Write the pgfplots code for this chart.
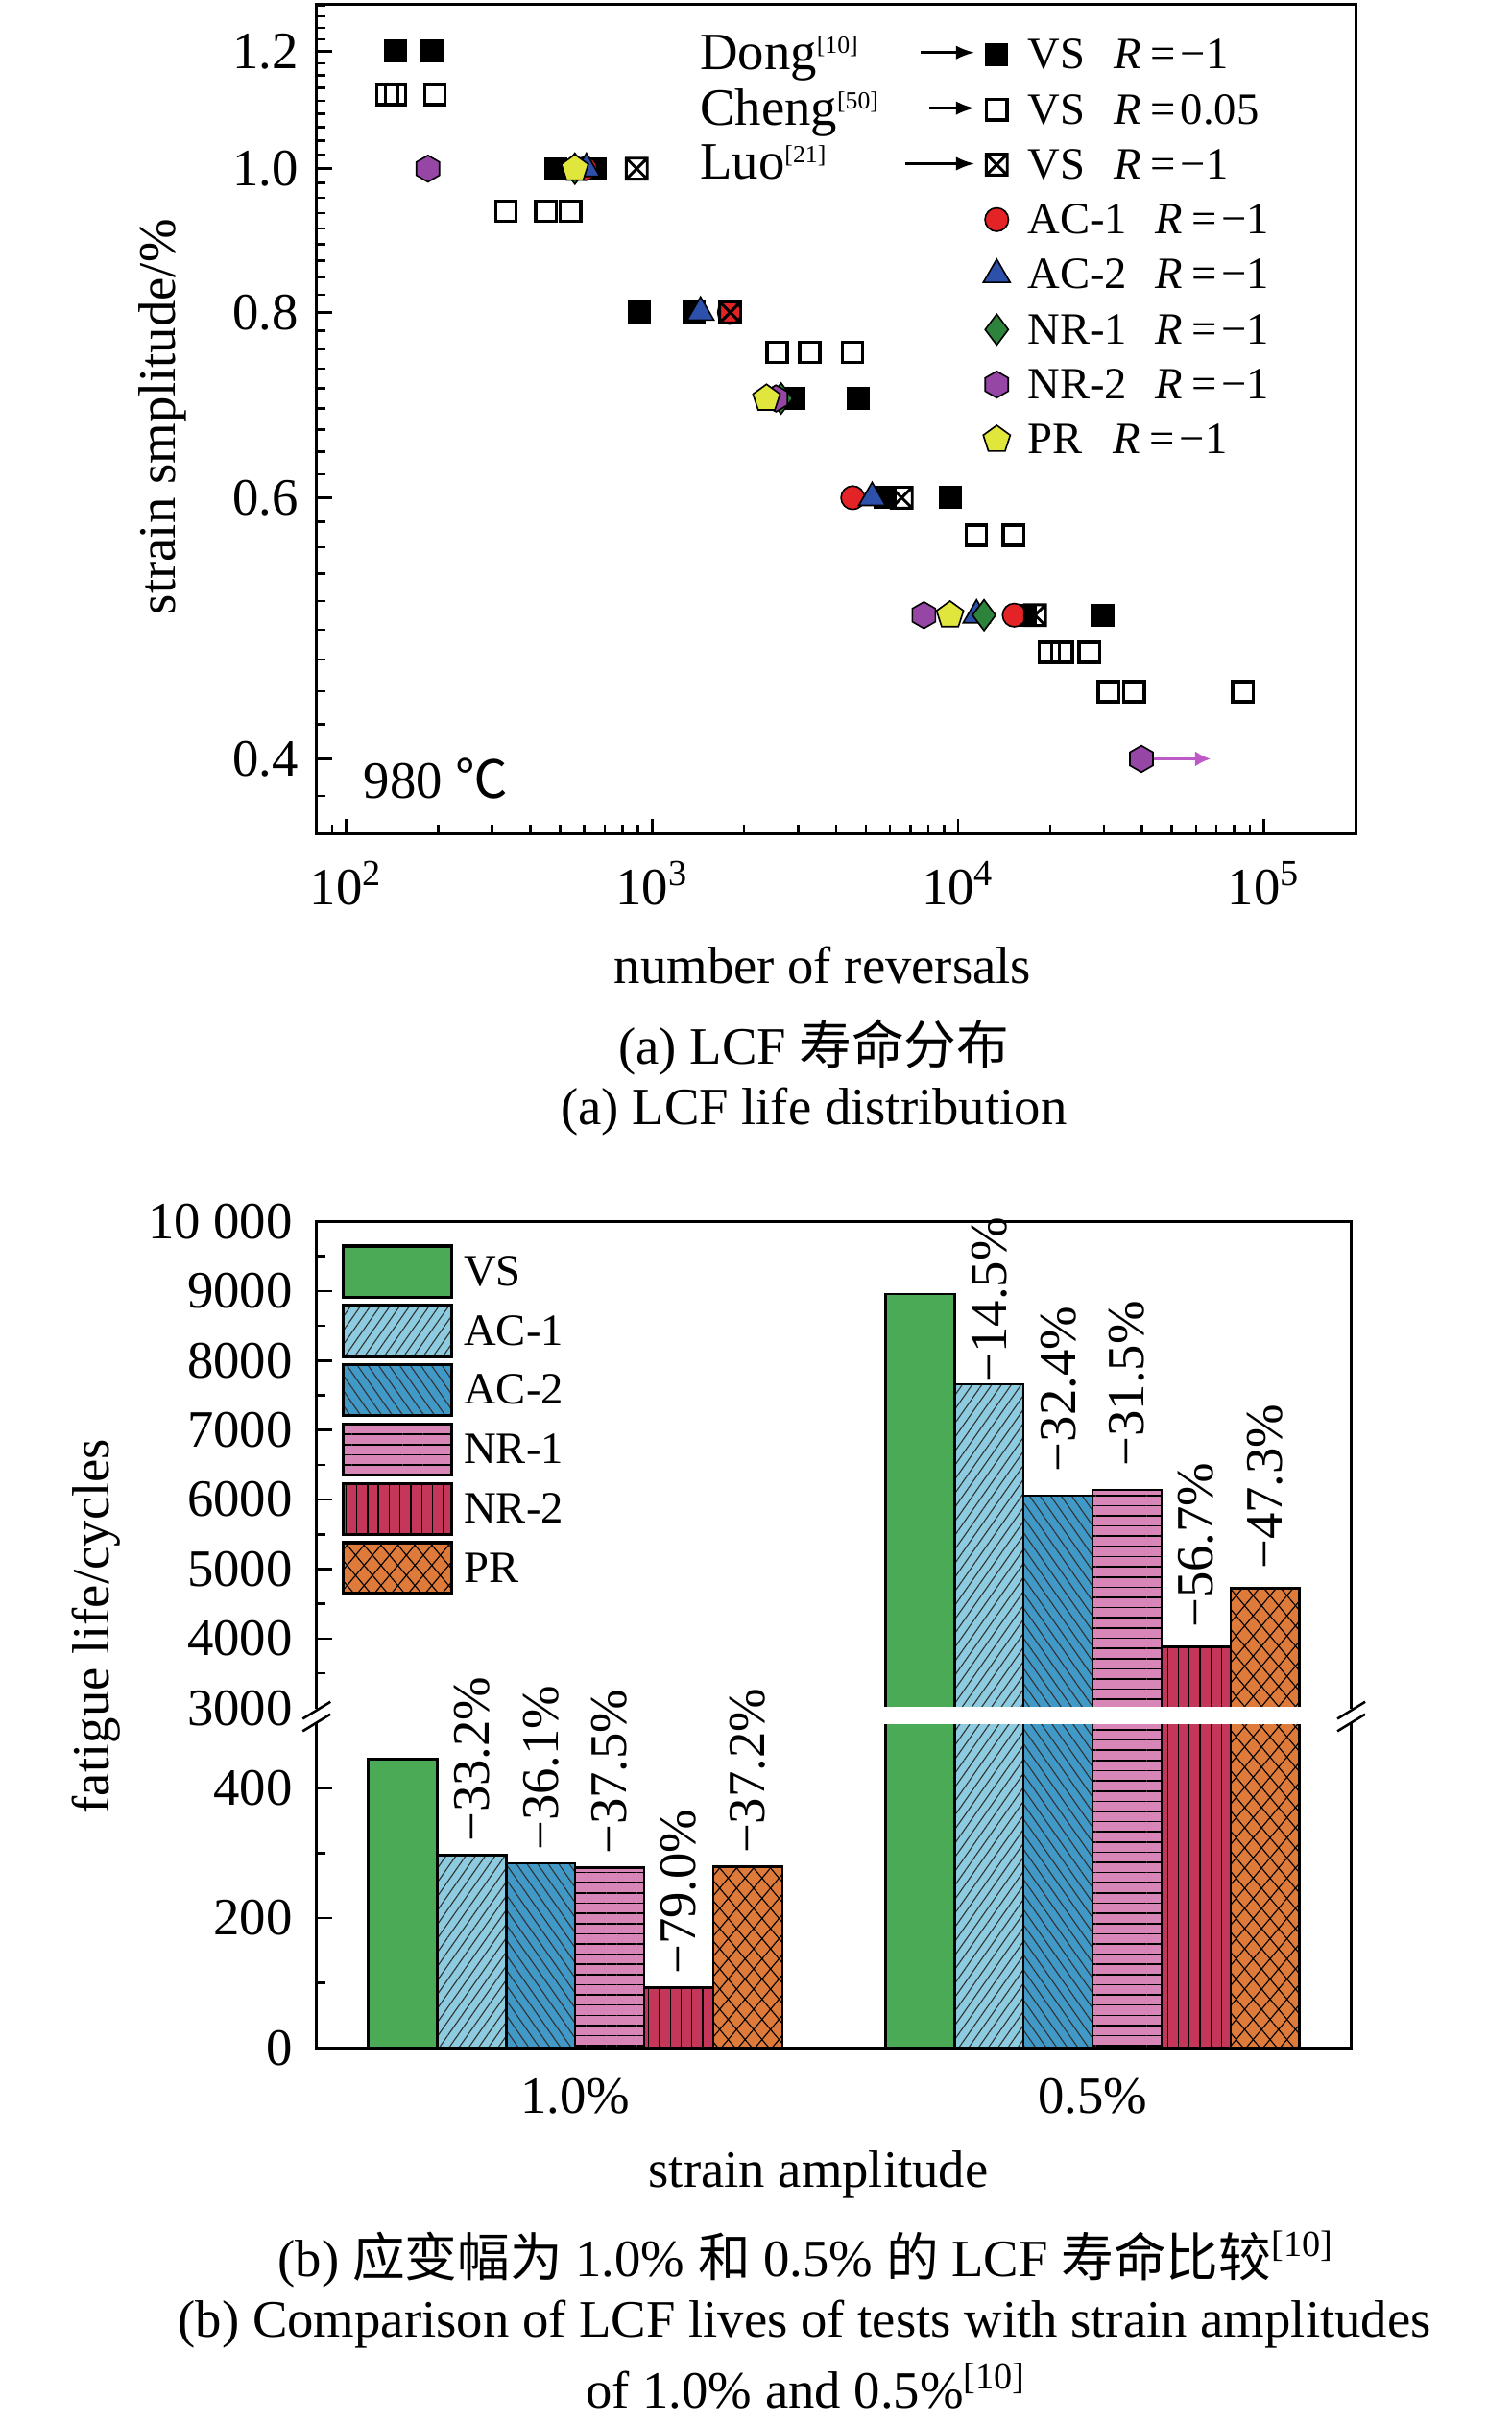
\documentclass[border=0pt]{standalone}
\usepackage{fontspec}
\setmainfont{Liberation Serif}
\newfontfamily\cjk{Noto Sans CJK SC}
\usepackage{graphicx}
\usepackage{pgfplots}
\pgfplotsset{compat=1.18}
\usetikzlibrary{plotmarks,patterns.meta,arrows.meta}

\definecolor{cRed}{RGB}{228,35,38}
\definecolor{cBlue}{RGB}{45,80,170}
\definecolor{cGreen}{RGB}{45,130,60}
\definecolor{cPurple}{RGB}{150,70,165}
\definecolor{cYellow}{RGB}{225,230,60}
\definecolor{cArrow}{RGB}{190,90,200}
\definecolor{bVS}{RGB}{74,170,86}
\definecolor{bAC1}{RGB}{141,204,224}
\definecolor{bAC2}{RGB}{65,153,200}
\definecolor{bNR1}{RGB}{216,133,184}
\definecolor{bNR2}{RGB}{196,55,90}
\definecolor{bPR}{RGB}{222,122,58}

\newcommand\smallsup[1]{\raisebox{5.2pt}{\fontsize{8}{9}\selectfont #1}}

\pgfdeclareplotmark{hexagon*}{%
  \pgfpathmoveto{\pgfpointpolar{90}{\pgfplotmarksize}}%
  \pgfpathlineto{\pgfpointpolar{150}{\pgfplotmarksize}}%
  \pgfpathlineto{\pgfpointpolar{210}{\pgfplotmarksize}}%
  \pgfpathlineto{\pgfpointpolar{270}{\pgfplotmarksize}}%
  \pgfpathlineto{\pgfpointpolar{330}{\pgfplotmarksize}}%
  \pgfpathlineto{\pgfpointpolar{30}{\pgfplotmarksize}}%
  \pgfpathclose
  \pgfusepathqfillstroke}
\pgfdeclareplotmark{boxx}{%
  \pgfpathrectanglecorners{\pgfqpoint{-\pgfplotmarksize}{-\pgfplotmarksize}}{\pgfqpoint{\pgfplotmarksize}{\pgfplotmarksize}}%
  \pgfpathmoveto{\pgfqpoint{-\pgfplotmarksize}{-\pgfplotmarksize}}%
  \pgfpathlineto{\pgfqpoint{\pgfplotmarksize}{\pgfplotmarksize}}%
  \pgfpathmoveto{\pgfqpoint{-\pgfplotmarksize}{\pgfplotmarksize}}%
  \pgfpathlineto{\pgfqpoint{\pgfplotmarksize}{-\pgfplotmarksize}}%
  \pgfusepathqstroke}

\pgfplotsset{
  mDong/.style={only marks, mark=square*, mark size=3.5pt, mark options={draw=black, fill=black, line width=0.5pt}},
  mCheng/.style={only marks, mark=square, mark size=3.3pt, mark options={draw=black, fill=white, line width=1.1pt}},
  mLuo/.style={only marks, mark=boxx, mark size=3.4pt, mark options={draw=black, fill=none, line width=0.9pt}},
  mAC1/.style={only marks, mark=*, mark size=3.8pt, mark options={draw=black, fill=cRed, line width=0.5pt}},
  mAC2/.style={only marks, mark=triangle*, mark size=5pt, mark options={draw=black, fill=cBlue, line width=0.5pt}},
  mNR1/.style={only marks, mark=diamond*, mark size=5pt, mark options={draw=black, fill=cGreen, line width=0.5pt}},
  mNR2/.style={only marks, mark=hexagon*, mark size=4.3pt, mark options={draw=black, fill=cPurple, line width=0.5pt}},
  mPR/.style={only marks, mark=pentagon*, mark size=4.6pt, mark options={draw=black, fill=cYellow, line width=0.5pt}},
  bVSs/.style={ybar, bar width=0.13333, bar shift=-0.33333, draw=black, line width=0.75pt, fill=bVS},
  bAC1s/.style={ybar, bar width=0.13333, bar shift=-0.2, draw=black, line width=0.75pt, preaction={fill=bAC1}, pattern={Lines[angle=55,distance=2.6pt,line width=0.35pt]}, pattern color=black!80},
  bAC2s/.style={ybar, bar width=0.13333, bar shift=-0.066667, draw=black, line width=0.75pt, preaction={fill=bAC2}, pattern={Lines[angle=-55,distance=2.8pt,line width=0.35pt]}, pattern color=black!80},
  bNR1s/.style={ybar, bar width=0.13333, bar shift=0.066667, draw=black, line width=0.75pt, preaction={fill=bNR1}, pattern={Lines[angle=0,distance=3.3pt,line width=0.5pt]}, pattern color=black},
  bNR2s/.style={ybar, bar width=0.13333, bar shift=0.2, draw=black, line width=0.75pt, preaction={fill=bNR2}, pattern={Lines[angle=90,distance=3.5pt,line width=0.4pt]}, pattern color=black},
  bPRs/.style={ybar, bar width=0.13333, bar shift=0.33333, draw=black, line width=0.75pt, preaction={fill=bPR}, preaction={pattern={Lines[angle=50,distance=4.2pt,line width=0.35pt]}, pattern color=black}, pattern={Lines[angle=-50,distance=4.2pt,line width=0.35pt]}, pattern color=black},
  ticksty/.style={tick align=inside, major tick length=5pt, minor tick length=3pt, tick style={black, line width=0.8pt}},
}

\begin{document}
\fontsize{17}{20.4}\selectfont
\begin{tikzpicture}
\useasboundingbox (0pt,0pt) rectangle (489.5pt,-784.5pt);

% ================= (a) LCF life distribution =================
\begin{axis}[
  name=topax,
  at={(102.5pt,-270pt)}, anchor=south west,
  width=336.5pt, height=268.5pt, scale only axis,
  xmode=log, ymode=log,
  xmin=80, xmax=200000, ymin=0.356, ymax=1.29,
  xtick={100,1000,10000,100000},
  xticklabels={10\textsuperscript{2},10\textsuperscript{3},10\textsuperscript{4},10\textsuperscript{5}},
  minor xtick={90,200,300,400,500,600,700,800,900,2000,3000,4000,5000,6000,7000,8000,9000,20000,30000,40000,50000,60000,70000,80000,90000},
  ytick={0.4,0.6,0.8,1.0,1.2},
  yticklabels={0.4,0.6,0.8,1.0,1.2},
  minor ytick={0.3778,0.4222,0.4444,0.4667,0.4889,0.5111,0.5333,0.5556,0.5778,0.6222,0.6444,0.6667,0.6889,0.7111,0.7333,0.7556,0.7778,0.8222,0.8444,0.8667,0.8889,0.9111,0.9333,0.9556,0.9778,1.0222,1.0444,1.0667,1.0889,1.1111,1.1333,1.1556,1.1778,1.2222,1.2444,1.2667,1.2889},
  ticksty, xtick pos=left, ytick pos=left,
  axis line style={line width=1pt},
  xticklabel style={yshift=-3pt},
  xlabel={number of reversals},
  ylabel={strain smplitude/\%},
  every axis x label/.style={at={(axis description cs:0.487,-0.158)}, anchor=center},
  every axis y label/.style={at={(axis description cs:-0.1486,0.503)}, anchor=center, rotate=90},
  legend style={at={(axis description cs:0.636,0.965)}, anchor=north west, draw=none, fill=none, inner sep=0pt, row sep=4.6pt, column sep=3pt, font=\fontsize{14.5}{17.4}\selectfont, nodes={inner sep=1pt, text height=10.2pt, text depth=1pt}},
  legend cell align=left,
  legend image code/.code={\path[draw=none, fill=none] (0pt,-6pt) rectangle (12pt,6pt); \draw[mark repeat=2,mark phase=2,#1] plot coordinates {(0pt,0pt) (6pt,0pt) (12pt,0pt)};},
]
% Dong [10], VS, R=-1
\addplot[mDong, forget plot] coordinates {
 (145,1.2) (191,1.2) (483,1.0) (650,1.0) (906,0.8) (1368,0.8)
 (2910,0.7) (4710,0.7) (5780,0.6) (9420,0.6) (16640,0.5) (29700,0.5)};
% Cheng [50], VS, R=0.05
\addplot[mCheng, forget plot] coordinates {
 (136,1.122) (145,1.122) (195,1.122) (333,0.936) (450,0.936) (541,0.936)
 (2560,0.752) (3275,0.752) (4520,0.752) (11480,0.566) (15200,0.566)
 (19870,0.472) (21880,0.472) (26900,0.472) (31100,0.444) (37600,0.444) (85500,0.444)};
% AC-1
\addplot[mAC1, forget plot] coordinates {(605,1.0) (1790,0.8) (4530,0.6) (15280,0.5)};
% AC-2
\addplot[mAC2, forget plot] coordinates {(610,1.0) (1440,0.8) (5240,0.6) (11500,0.5)};
% NR-1
\addplot[mNR1, forget plot] coordinates {(559,1.0) (2640,0.7) (12170,0.5)};
% NR-2
\draw[cArrow, line width=1.1pt, -{Latex[length=5pt,width=5pt]}] (axis cs:43000,0.4) -- (axis cs:67000,0.4);
\addplot[mNR2, forget plot] coordinates {(185,1.0) (2540,0.7) (7740,0.5) (39800,0.4)};
% PR
\addplot[mPR, forget plot] coordinates {(559,1.0) (2366,0.7) (9420,0.5)};
% Luo [21], VS, R=-1
\addplot[mLuo, forget plot] coordinates {(891,1.0) (1800,0.8) (6550,0.6) (17870,0.5)};

\addlegendimage{mDong}\addlegendentry{VS\hspace{9.5pt}\textit{R}\hspace{3pt}=\hspace{1.5pt}−1}
\addlegendimage{mCheng}\addlegendentry{VS\hspace{9.5pt}\textit{R}\hspace{3pt}=\hspace{1.5pt}0.05}
\addlegendimage{mLuo}\addlegendentry{VS\hspace{9.5pt}\textit{R}\hspace{3pt}=\hspace{1.5pt}−1}
\addlegendimage{mAC1}\addlegendentry{AC-1\hspace{9pt}\textit{R}\hspace{3pt}=\hspace{1.5pt}−1}
\addlegendimage{mAC2}\addlegendentry{AC-2\hspace{9pt}\textit{R}\hspace{3pt}=\hspace{1.5pt}−1}
\addlegendimage{mNR1}\addlegendentry{NR-1\hspace{9pt}\textit{R}\hspace{3pt}=\hspace{1.5pt}−1}
\addlegendimage{mNR2}\addlegendentry{NR-2\hspace{9pt}\textit{R}\hspace{3pt}=\hspace{1.5pt}−1}
\addlegendimage{mPR}\addlegendentry{PR\hspace{10pt}\textit{R}\hspace{3pt}=\hspace{1.5pt}−1}
\end{axis}

% ================= (b) lower part 0-500 =================
\begin{axis}[
  name=lowax,
  at={(102.5pt,-663pt)}, anchor=south west,
  width=335pt, height=105pt, scale only axis,
  xmin=-0.5, xmax=1.5, ymin=0, ymax=500,
  axis line style={draw=none},
  xtick={0,1}, xticklabels={1.0\%,0.5\%},
  ytick={0,200,400}, yticklabels={0,200,400},
  minor ytick={100,300},
  ticksty, xtick pos=left, ytick pos=left,
  xticklabel style={yshift=-4pt},
  yticklabel style={xshift=-2pt},
  xlabel={strain amplitude},
  every axis x label/.style={at={(axis description cs:0.485,-0.39)}, anchor=center},
]
\addplot[bVSs]  coordinates {(0,445) (1,8960)};
\addplot[bAC1s] coordinates {(0,297) (1,7661)};
\addplot[bAC2s] coordinates {(0,284) (1,6057)};
\addplot[bNR1s] coordinates {(0,278) (1,6138)};
\addplot[bNR2s] coordinates {(0,93)  (1,3880)};
\addplot[bPRs]  coordinates {(0,279) (1,4722)};
\end{axis}

% ================= (b) upper part 3000-10000 =================
\begin{axis}[
  name=upax,
  at={(102.5pt,-553pt)}, anchor=south west,
  width=335pt, height=157.5pt, scale only axis,
  xmin=-0.5, xmax=1.5, ymin=3000, ymax=10000,
  axis line style={draw=none},
  scaled y ticks=false,
  xtick=\empty,
  ytick={3000,4000,5000,6000,7000,8000,9000,10000},
  yticklabels={3000,4000,5000,6000,7000,8000,9000,10\ 000},
  minor ytick={3500,4500,5500,6500,7500,8500,9500},
  ticksty, ytick pos=left,
  yticklabel style={xshift=-2pt},
  ylabel={fatigue life/cycles},
  every axis y label/.style={at={(axis description cs:-0.2134,0.168)}, anchor=center, rotate=90},
  legend style={at={(axis description cs:0.0239,0.954)}, anchor=north west, draw=none, fill=none, inner sep=0pt, row sep=1.7pt, column sep=2.5pt, font=\fontsize{14.5}{17.4}\selectfont, nodes={inner sep=1pt, text height=10.2pt, text depth=1pt}},
  legend cell align=left,
  legend image code/.code={\draw[#1, line width=1pt] (0pt,-8.25pt) rectangle (35pt,8.25pt);},
]
\addplot[bVSs]  coordinates {(0,445) (1,8960)};
\addplot[bAC1s] coordinates {(0,297) (1,7661)};
\addplot[bAC2s] coordinates {(0,284) (1,6057)};
\addplot[bNR1s] coordinates {(0,278) (1,6138)};
\addplot[bNR2s] coordinates {(0,93)  (1,3880)};
\addplot[bPRs]  coordinates {(0,279) (1,4722)};
\legend{VS,AC-1,AC-2,NR-1,NR-2,PR}
\end{axis}

% white break band, then the frame lines of both parts
\fill[white] (100pt,-552.6pt) rectangle (440pt,-558.3pt);
\draw[line width=1pt] (lowax.north west) -- (lowax.south west) -- (lowax.south east) -- (lowax.north east);
\draw[line width=1pt] ([yshift=-0.4pt]upax.south west) -- (upax.north west) -- (upax.north east) -- ([yshift=-0.4pt]upax.south east);

% percentage labels (overlay axes, unclipped)
\begin{axis}[
  at={(102.5pt,-663pt)}, anchor=south west,
  width=335pt, height=105pt, scale only axis,
  xmin=-0.5, xmax=1.5, ymin=0, ymax=500, hide axis, clip=false]
\addplot[draw=none, mark=none, forget plot, point meta=explicit symbolic,
  nodes near coords={\rotatebox{90}{\pgfplotspointmeta}},
  every node near coord/.append style={inner sep=3pt}]
  coordinates {(-0.2,302)[−33.2\%] (-0.066667,289)[−36.1\%] (0.066667,283)[−37.5\%] (0.2,98)[−79.0\%] (0.33333,284)[−37.2\%]};
\end{axis}
\begin{axis}[
  at={(102.5pt,-553pt)}, anchor=south west,
  width=335pt, height=157.5pt, scale only axis,
  xmin=-0.5, xmax=1.5, ymin=3000, ymax=10000, hide axis, clip=false]
\addplot[draw=none, mark=none, forget plot, point meta=explicit symbolic,
  nodes near coords={\rotatebox{90}{\pgfplotspointmeta}},
  every node near coord/.append style={inner sep=3pt}]
  coordinates {(0.8,7540)[−14.5\%] (0.93333,6257)[−32.4\%] (1.06667,6338)[−31.5\%] (1.2,4013)[−56.7\%] (1.33333,4855)[−47.3\%]};
\end{axis}

% ---------- decorations and texts (coordinates in reference pixels / 2) ----------
\begin{scope}[x=0.5pt, y=-0.5pt]
  % axis breaks
  \foreach \xx in {205,875} {
    \draw[line width=0.8pt] (\xx-9,1113) -- (\xx+9,1102);
    \draw[line width=0.8pt] (\xx-9,1121) -- (\xx+9,1110);
  }
  % source annotations in (a)
  \node[anchor=base west, inner sep=0pt] at (453,45) {Dong\smallsup{[10]}};
  \node[anchor=base west, inner sep=0pt] at (453,81) {Cheng\smallsup{[50]}};
  \node[anchor=base west, inner sep=0pt] at (453,116) {Luo\smallsup{[21]}};
  \draw[line width=0.8pt, -{Latex[length=6pt,width=4.5pt]}] (596,34) -- (631,34);
  \draw[line width=0.8pt, -{Latex[length=6pt,width=4.5pt]}] (602,70) -- (631,70);
  \draw[line width=0.8pt, -{Latex[length=6pt,width=4.5pt]}] (586,106) -- (631,106);
  \node[anchor=base west, inner sep=0pt] at (235,517) {980 {\cjk ℃}};
  % captions
  \node[anchor=center, inner sep=0pt] at (527,678) {(a) LCF {\cjk 寿命分布}};
  \node[anchor=center, inner sep=0pt] at (527,720) {(a) LCF life distribution};
  \node[anchor=center, inner sep=0pt] at (522,1463) {(b) {\cjk 应变幅为} 1.0\% {\cjk 和} 0.5\% {\cjk 的} LCF {\cjk 寿命比较}\textsuperscript{[10]}};
  \node[anchor=center, inner sep=0pt] at (521,1505) {(b) Comparison of LCF lives of tests with strain amplitudes};
  \node[anchor=center, inner sep=0pt] at (522,1545) {of 1.0\% and 0.5\%\textsuperscript{[10]}};
\end{scope}
\end{tikzpicture}
\end{document}
